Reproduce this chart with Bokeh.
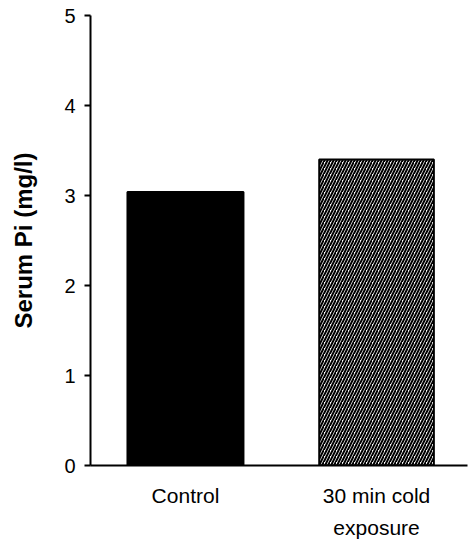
from bokeh.plotting import figure
from bokeh.models import Range1d, FixedTicker
from bokeh.embed import file_html
from bokeh.resources import INLINE

categories = ["Control", "30 min cold\nexposure"]
values = [3.04, 3.40]
y_ticks = [0, 1, 2, 3, 4, 5]
positions = [0, 1]

p = figure(width=469, height=542, output_backend="svg", toolbar_location=None,
           x_range=Range1d(-0.497, 1.476), y_range=Range1d(0, 5),
           min_border_left=90, min_border_right=2, min_border_top=15, min_border_bottom=77)
p.outline_line_color = None
p.grid.visible = False
p.background_fill_color = "white"

p.vbar(x=[positions[0]], top=[values[0]], width=0.607, fill_color="black",
       line_color="black", line_width=2)
p.vbar(x=[positions[1]], top=[values[1]], width=0.600, fill_color="white",
       line_color="black", line_width=2, hatch_pattern="/", hatch_color="black",
       hatch_scale=6, hatch_weight=2)

font = "Liberation Sans"
p.xaxis.ticker = FixedTicker(ticks=positions)
p.xaxis.major_label_overrides = {positions[i]: categories[i] for i in range(2)}
p.xaxis.major_tick_line_color = None
p.xaxis.minor_tick_line_color = None
p.xaxis.axis_line_width = 2
p.xaxis.major_label_text_font = font
p.xaxis.major_label_text_font_size = "21px"
p.xaxis.major_label_text_color = "black"
p.xaxis.major_label_text_line_height = 1.4
p.xaxis.major_label_standoff = 12

p.yaxis.ticker = FixedTicker(ticks=y_ticks)
p.yaxis.minor_tick_line_color = None
p.yaxis.major_tick_out = 6
p.yaxis.major_tick_in = 0
p.yaxis.axis_line_width = 2
p.yaxis.major_tick_line_width = 2
p.yaxis.major_label_text_font = font
p.yaxis.major_label_text_font_size = "20px"
p.yaxis.major_label_text_color = "black"
p.yaxis.major_label_standoff = 9
p.yaxis.axis_label = "Serum Pi (mg/l)"
p.yaxis.axis_label_text_font = font
p.yaxis.axis_label_text_font_size = "24px"
p.yaxis.axis_label_text_font_style = "bold"
p.yaxis.axis_label_text_color = "black"
p.yaxis.axis_label_standoff = 24

open("out.html", "w").write(file_html(p, INLINE))
